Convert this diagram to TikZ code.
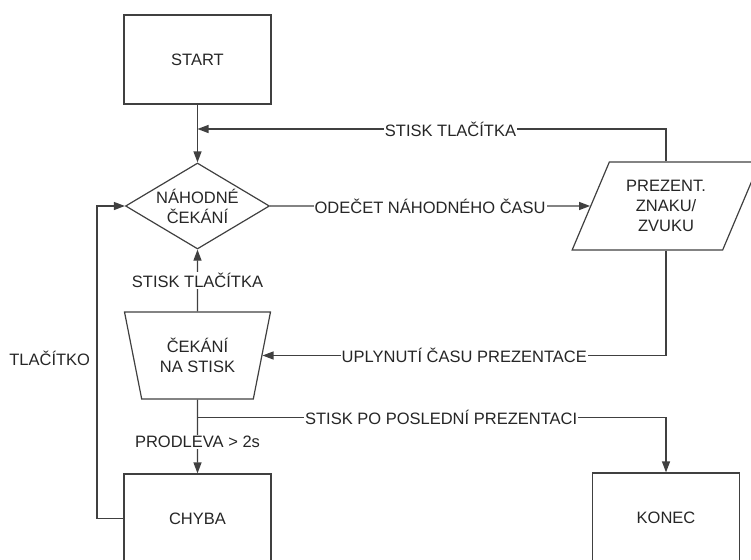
\documentclass[tikz,border=0pt]{standalone}
\usepackage{fontspec}
\setmainfont{Liberation Sans}
\usetikzlibrary{arrows.meta,shapes.geometric,calc}
\tikzset{%
   box/.style={
      rectangle,
      draw,
      minimum width=147pt,
      minimum height=89pt
   },
   decide/.style={
      diamond,
      draw,
      shape aspect=1.67,
      inner sep=0pt,
      minimum width=144pt,
      minimum height=86pt
   },
   io/.style={
      trapezium,
      draw,
      trapezium left angle=64,
      trapezium right angle=116,
      trapezium stretches=true,
      minimum width=188pt,
      minimum height=88pt
   },
   waitbox/.style={
      trapezium,
      draw,
      trapezium left angle=107,
      trapezium right angle=107,
      trapezium stretches=true,
      minimum width=146pt,
      minimum height=87pt
   },
   lab/.style={
      fill=white,
      inner sep=1pt
   },
   flow/.style={
      -{Triangle[length=11pt,width=8pt]}
   },
}

\begin{document}
\begin{tikzpicture}[x=1pt, y=-1pt, line width=1.2pt, color=black!75,
      every node/.style={text=black!85, align=center,
         font=\fontsize{16.5}{20}\selectfont}]
   \useasboundingbox (0,0) rectangle (751,559);
   % steps
   \node[box] (start) at (197.5,59.5) {START};
   \node[decide] (wait) at (197.5,206) {NÁHODNÉ\\ČEKÁNÍ};
   \node[io] (prez) at (666,206) {PREZENT.\\ZNAKU/\\ZVUKU};
   \node[waitbox] (press) at (197.5,355.5) {ČEKÁNÍ\\NA STISK};
   \node[box] (error) at (197.5,518.5) {CHYBA};
   \node[box] (end) at (666,517.5) {KONEC};
   % joints
   \coordinate (back) at (197.5,129);
   \coordinate (split) at ($(press.south)!.24!(error.north)$);
   \coordinate (loop) at (97,358);
   % flow
   \draw[flow] (start.south) -- (wait.north);
   \draw[flow] (prez.north) |- (back) node[lab, pos=.73] {STISK TLAČÍTKA};
   \draw[flow] (wait.east) -- (prez.west) node[lab, midway] {ODEČET NÁHODNÉHO ČASU};
   \draw[flow] (prez.south) |- (press.east) node[lab, pos=.75] {UPLYNUTÍ ČASU PREZENTACE};
   \draw[flow] (press.north) -- (wait.south) node[lab, midway] {STISK TLAČÍTKA};
   \draw[flow] (press.south) -- (error.north) node[lab, pos=.57] {PRODLEVA > 2s};
   \draw[flow] (split) -| (end.north) node[lab, pos=.26] {STISK PO POSLEDNÍ PREZENTACI};
   \draw[flow] (error.west) -| (loop) node[left=3pt] {TLAČÍTKO} |- (wait.west);
\end{tikzpicture}
\end{document}
